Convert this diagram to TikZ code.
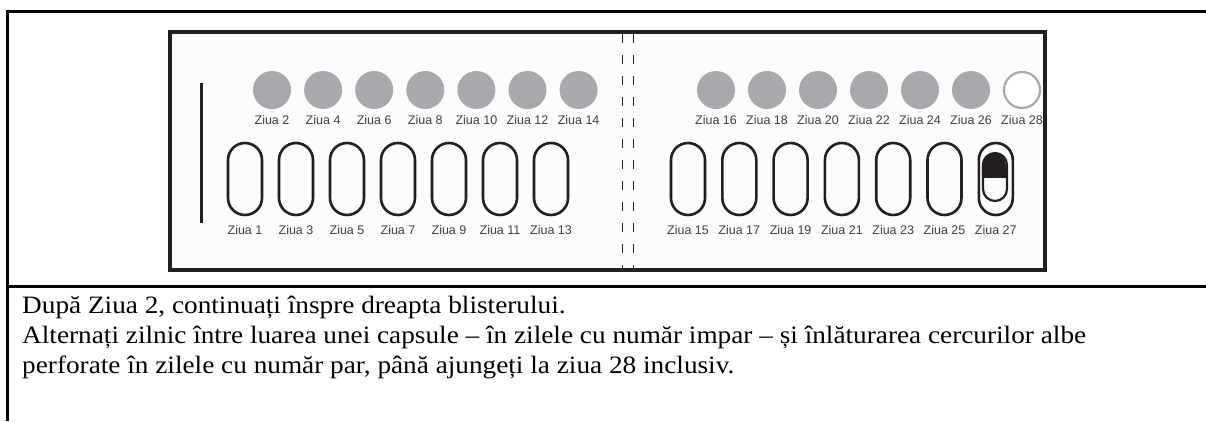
\documentclass[tikz,border=0pt]{standalone}
\usepackage{fontspec}
\setmainfont{Liberation Serif}
\newfontfamily\labelfont{Liberation Sans}
\usepackage{tikz}

\definecolor{pillgray}{HTML}{A7A9AC}
\definecolor{foilline}{HTML}{231F20}
\definecolor{labelgray}{HTML}{404040}

\begin{document}
\begin{tikzpicture}[x=1pt, y=-1pt,
	dot/.style = {circle, fill=pillgray, minimum size=38pt, inner sep=0pt},
	emptydot/.style = {circle, draw=pillgray, line width=2.2pt, fill=white, minimum size=36pt, inner sep=0pt},
	pocket/.style = {draw=foilline, line width=2.6pt, rounded corners=17pt, minimum width=34pt, minimum height=72pt, inner sep=0pt},
	daylabel/.style = {text=labelgray, font=\labelfont\fontsize{12.5}{13}\selectfont, inner sep=0pt},
	notetext/.style = {anchor=base west, font=\fontsize{25}{30}\selectfont, inner sep=0pt, xscale=1.09, transform shape}]
	\useasboundingbox (0,0) rectangle (1206,421);
	\draw[line width=3pt] (7,421) -- (7,11) -- (1206,11);
	\draw[line width=3pt] (7,286) -- (1206,286);
	\draw[draw=foilline, fill=black!1, line width=3.5pt] (170,32) rectangle (1045,270);
	\draw[foilline, line width=0.9pt, dash pattern=on 9pt off 12pt] (622,34) -- (622,268);
	\draw[foilline, line width=0.9pt, dash pattern=on 9pt off 12pt] (633,34) -- (633,268);
	\draw[foilline, line width=3pt] (201,83) -- (201,223);
	\foreach \i in {0,...,6} {
		\pgfmathtruncatemacro{\even}{2+2*\i}
		\pgfmathtruncatemacro{\odd}{1+2*\i}
		\node[dot] (c\even) at (272+51.1*\i,90) {};
		\node[daylabel] (l\even) at (272+51.1*\i,120) {Ziua \even};
		\node[pocket] (p\odd) at (245+51*\i,179) {};
		\node[daylabel] (l\odd) at (245+51*\i,230) {Ziua \odd};
	}
	\foreach \i in {0,...,5} {
		\pgfmathtruncatemacro{\even}{16+2*\i}
		\node[dot] (c\even) at (716+51*\i,90) {};
		\node[daylabel] (l\even) at (716+51*\i,120) {Ziua \even};
	}
	\node[emptydot] (c28) at (1022,90) {};
	\node[daylabel] (l28) at (1022,120) {Ziua 28};
	\foreach \i in {0,...,6} {
		\pgfmathtruncatemacro{\odd}{15+2*\i}
		\node[pocket] (p\odd) at (688+51.3*\i,179) {};
		\node[daylabel] (l\odd) at (688+51.3*\i,230) {Ziua \odd};
	}
	\node[draw=foilline, line width=2.2pt, rounded corners=12pt, minimum width=24pt, minimum height=48pt, inner sep=0pt] (cap27) at (995,177) {};
	\fill[foilline] (cap27.west) -- ++(0,-12) arc[start angle=180, end angle=360, radius=12] -- (cap27.east) -- cycle;
	\draw[foilline, line width=2.2pt] (cap27.west) -- (cap27.east);
	\node[notetext] (txt1) at (22,313) {După Ziua 2, continuați înspre dreapta blisterului.};
	\node[notetext] (txt2) at (22,343) {Alternați zilnic între luarea unei capsule – în zilele cu număr impar – și înlăturarea cercurilor albe};
	\node[notetext] (txt3) at (22,373) {perforate în zilele cu număr par, până ajungeți la ziua 28 inclusiv.};
\end{tikzpicture}
\end{document}
